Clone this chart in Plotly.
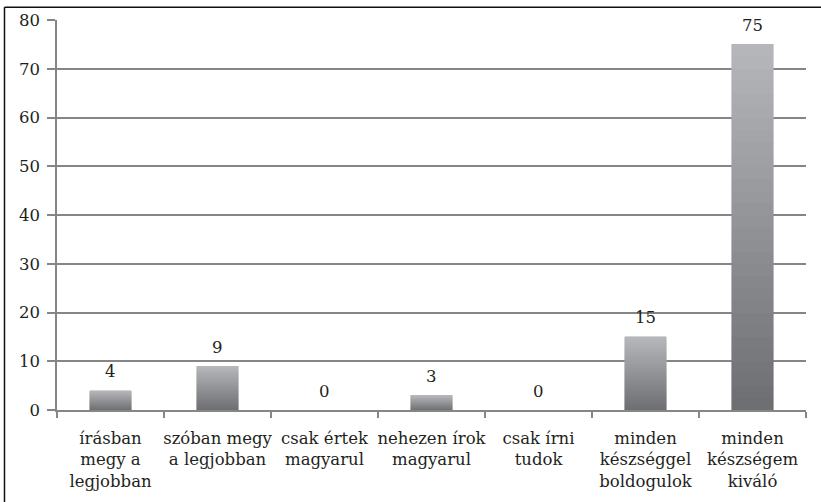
import plotly.graph_objects as go

# Survey answers and their counts
categories = [
    "írásban<br>megy a<br>legjobban",
    "szóban megy<br>a legjobban",
    "csak értek<br>magyarul",
    "nehezen írok<br>magyarul",
    "csak írni<br>tudok",
    "minden<br>készséggel<br>boldogulok",
    "minden<br>készségem<br>kiváló",
]
counts = [4, 9, 0, 3, 0, 15, 75]
y_ticks = [0, 10, 20, 30, 40, 50, 60, 70, 80]

FONT = "DejaVu Serif, serif"
FS = 16.5
TEXT = "#231f20"
GRID = "#868686"

# Vertical grey gradient: each bar is built from equal stacked bands,
# dark at the base and light at the top.
N_BANDS = 30
dark = (110, 111, 115)
light = (181, 182, 185)


def band_color(k):
    t = k / (N_BANDS - 1)
    r, g, b = (round(d + (l - d) * t) for d, l in zip(dark, light))
    return f"rgb({r},{g},{b})"


fig = go.Figure()
for k in range(N_BANDS):
    c = band_color(k)
    fig.add_trace(go.Bar(
        x=categories,
        y=[v / N_BANDS for v in counts],
        marker=dict(color=c, line=dict(color=c, width=0.6)),
        hoverinfo="skip",
        showlegend=False,
    ))

# Value labels above the bars
for cat, v in zip(categories, counts):
    fig.add_annotation(
        x=cat, y=v, text=str(v), showarrow=False,
        yanchor="middle", yshift=19,
        font=dict(family=FONT, size=FS, color=TEXT),
    )

# Thin black frame along the top and left edges
fig.add_shape(type="line", xref="paper", yref="paper",
              x0=-0.0701, x1=1.03, y0=1.0327, y1=1.0327,
              line=dict(color="#111111", width=1.5))
fig.add_shape(type="line", xref="paper", yref="paper",
              x0=-0.0701, x1=-0.0701, y0=1.0327, y1=-0.25,
              line=dict(color="#111111", width=1.5))

fig.update_layout(
    width=821, height=502,
    margin=dict(l=57, r=15, t=20, b=92),
    paper_bgcolor="white", plot_bgcolor="white",
    barmode="stack", bargap=0.61,
    font=dict(family=FONT, size=FS, color=TEXT),
)
fig.update_xaxes(
    showgrid=False, showline=True, linecolor=GRID, linewidth=1.6,
    ticks="outside", tickson="boundaries", ticklen=6, tickcolor=GRID,
    tickwidth=1.6, ticklabelstandoff=12, tickangle=0, automargin=False,
    tickfont=dict(family=FONT, size=FS, color=TEXT),
)
fig.update_yaxes(
    range=[0, 80], tickvals=y_ticks, showgrid=True, gridcolor=GRID,
    gridwidth=1.6, showline=True, linecolor=GRID, linewidth=1.6,
    ticks="outside", ticklen=8, tickcolor=GRID, tickwidth=1.6,
    zeroline=False, ticklabelstandoff=4, automargin=False,
    tickfont=dict(family=FONT, size=FS, color=TEXT),
)

fig.write_html("out.html")
